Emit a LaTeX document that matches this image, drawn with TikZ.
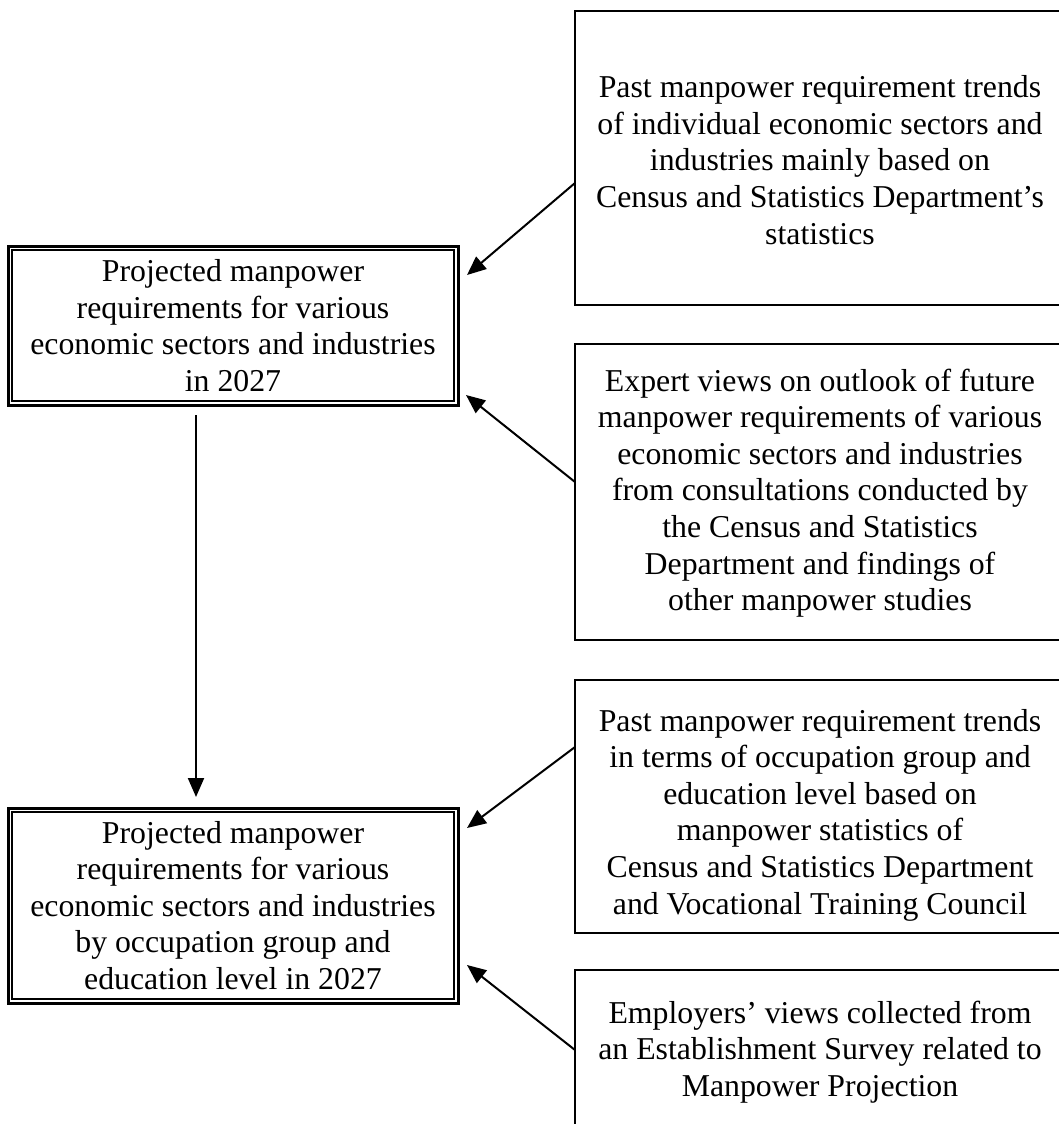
\documentclass[tikz,border=0pt]{standalone}
\usepackage{fontspec}
\setmainfont{Liberation Serif}
\usetikzlibrary{arrows.meta}
\begin{document}
\begin{tikzpicture}[x=1pt,y=-1pt,
  txt/.style={align=center, font=\fontsize{31.8}{36.6}\selectfont, inner sep=0pt},
  lbox/.style={draw, line width=3pt, minimum width=450pt, inner sep=0pt, txt},
  inner/.style={line width=1.5pt},
  rbox/.style={draw, line width=2.7pt, minimum width=490pt, inner sep=0pt},
  arr/.style={line width=2pt, -{Triangle[length=19pt,width=16pt]}}]
\useasboundingbox (0,0) rectangle (1059,1124);
\clip (0,0) rectangle (1059,1124);

% left boxes (double border: thick outer, thin inner)
\node[lbox, minimum height=159pt] (b1) at (233,325.5)
  {Projected manpower\\requirements for various\\economic sectors and industries\\in 2027};
\draw[inner] ([shift={(5.5pt,-5.5pt)}]b1.north west) rectangle ([shift={(-5.5pt,5.5pt)}]b1.south east);

\node[lbox, minimum height=195pt] (b2) at (233,905.5)
  {Projected manpower\\requirements for various\\economic sectors and industries\\by occupation group and\\education level in 2027};
\draw[inner] ([shift={(5.5pt,-5.5pt)}]b2.north west) rectangle ([shift={(-5.5pt,5.5pt)}]b2.south east);

% right boxes
\node[rbox, minimum height=294pt] (r1) at (820,158) {};
\node[txt] (t1) at (820,160) {Past manpower requirement trends\\of individual economic sectors and\\industries mainly based on\\Census and Statistics Department’s\\statistics};

\node[rbox, minimum height=296pt] (r2) at (820,492) {};
\node[txt] (t2) at (820,493) {Expert views on outlook of future\\manpower requirements of various\\economic sectors and industries\\from consultations conducted by\\the Census and Statistics\\Department and findings of\\other manpower studies};

\node[rbox, minimum height=253pt] (r3) at (820,806.5) {};
\node[txt] (t3) at (820,815) {Past manpower requirement trends\\in terms of occupation group and\\education level based on\\manpower statistics of\\Census and Statistics Department\\and Vocational Training Council};

\node[rbox, minimum height=180pt] (r4) at (820,1060) {};
\node[txt] (t4) at (820,1052) {Employers’ views collected from\\an Establishment Survey related to\\Manpower Projection};

% connectors
\coordinate (v1) at (196,415);
\coordinate (v2) at (196,797);
\draw[arr] (v1) -- (v2);

\coordinate (a1) at (575,183);
\coordinate (e1) at (467,275);
\draw[arr] (a1) -- (e1);

\coordinate (a2) at (575,482);
\coordinate (e2) at (466,395);
\draw[arr] (a2) -- (e2);

\coordinate (a3) at (575,747);
\coordinate (e3) at (467,828);
\draw[arr] (a3) -- (e3);

\coordinate (a4) at (575,1050);
\coordinate (e4) at (467,965);
\draw[arr] (a4) -- (e4);
\end{tikzpicture}
\end{document}
